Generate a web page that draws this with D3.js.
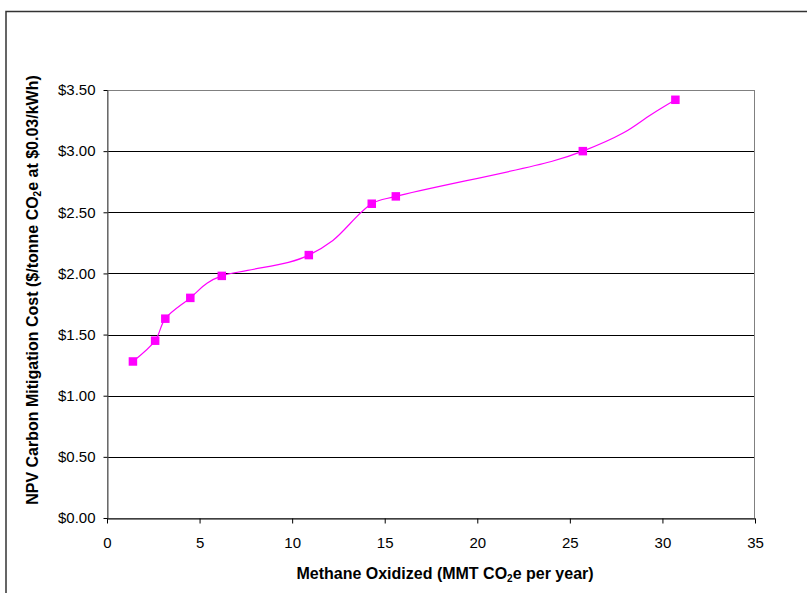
<!DOCTYPE html>
<html><head><meta charset="utf-8">
<script src="https://cdn.jsdelivr.net/npm/d3@7"></script>
<style>body{margin:0;background:#fff;} svg{display:block;font-family:"Liberation Sans",Arial,sans-serif;}</style>
</head><body>
<svg id="c" width="807" height="593"></svg>
<script>
// marker points
const markerX = [1.4, 2.6, 3.15, 4.5, 6.2, 10.9, 14.3, 15.6, 25.7, 30.7];
const markerY = [1.28, 1.45, 1.63, 1.80, 1.98, 2.15, 2.57, 2.63, 3.00, 3.42];
// smoothed line points (includes unmarked vertices)
const lineX = [1.4, 2.6, 3.15, 4.5, 5.4, 6.2, 7.6, 9.8, 10.9, 12.2, 14.3, 15.6, 24.0, 25.7, 27.9, 29.4, 30.7];
const lineY = [1.28, 1.45, 1.63, 1.80, 1.92, 1.98, 2.025, 2.09, 2.15, 2.27, 2.57, 2.63, 2.915, 3.00, 3.15, 3.30, 3.42];
const xTicks = [0, 5, 10, 15, 20, 25, 30, 35];
const yTicks = [0, 0.5, 1, 1.5, 2, 2.5, 3, 3.5];

const svg = d3.select("#c");
const L = 107, R = 755, T = 90, B = 518;
const x = d3.scaleLinear().domain([0, 35]).range([L, R]);
const y = d3.scaleLinear().domain([0, 3.5]).range([B, T]);

// outer frame
svg.append("path").attr("d", `M6,593 V11.5 H807`).attr("fill", "none").attr("stroke", "#333").attr("stroke-width", 1.5);

// gridlines
svg.append("g").selectAll("line").data(yTicks.filter(d => d > 0 && d < 3.5)).join("line")
  .attr("x1", L).attr("x2", R).attr("y1", d => Math.round(y(d)) + 0.5).attr("y2", d => Math.round(y(d)) + 0.5)
  .attr("stroke", "#000").attr("stroke-width", 1);

// plot border
svg.append("rect").attr("x", L + 0.5).attr("y", T + 0.5).attr("width", R - L - 1).attr("height", B - T)
  .attr("fill", "none").attr("stroke", "#808080").attr("stroke-width", 1);

// axes
const fmt = d => "$" + d.toFixed(2);
const yAxis = d3.axisLeft(y).tickValues(yTicks).tickFormat(fmt).tickSizeInner(4).tickSizeOuter(0).tickPadding(8);
const gy = svg.append("g").attr("transform", `translate(${L + 0.5},0)`).call(yAxis);
gy.select(".domain").attr("stroke", "#555");
gy.selectAll(".tick line").attr("stroke", "#000");
gy.selectAll("text").attr("font-size", 15).attr("fill", "#000").attr("font-family", "Liberation Sans, Arial, sans-serif");

const xAxis = d3.axisBottom(x).tickValues(xTicks).tickFormat(d3.format("d")).tickSizeInner(5).tickSizeOuter(0).tickPadding(14);
const gx = svg.append("g").attr("transform", `translate(0,${B + 0.5})`).call(xAxis);
gx.select(".domain").attr("stroke", "#000");
gx.selectAll(".tick line").attr("stroke", "#000");
gx.selectAll("text").attr("font-size", 15).attr("fill", "#000").attr("font-family", "Liberation Sans, Arial, sans-serif");

// line
const pts = lineX.map((v, i) => [v, lineY[i]]);
svg.append("path").datum(pts)
  .attr("d", d3.line().x(d => x(d[0])).y(d => y(d[1])).curve(d3.curveCatmullRom.alpha(0.5)))
  .attr("fill", "none").attr("stroke", "#FF00FF").attr("stroke-width", 1.2);

// markers
const ms = 8.5;
svg.append("g").selectAll("rect").data(markerX.map((v, i) => [v, markerY[i]])).join("rect")
  .attr("x", d => x(d[0]) - ms / 2).attr("y", d => y(d[1]) - ms / 2)
  .attr("width", ms).attr("height", ms).attr("fill", "#FF00FF");

// axis titles
const xt = svg.append("text").attr("x", 445).attr("y", 579).attr("text-anchor", "middle")
  .attr("font-size", 16).attr("font-weight", "bold");
xt.append("tspan").text("Methane Oxidized (MMT CO");
xt.append("tspan").text("2").attr("font-size", 10).attr("dy", 3);
xt.append("tspan").text("e per year)").attr("dy", -3);

const yt = svg.append("text").attr("transform", `translate(38,290) rotate(-90)`).attr("text-anchor", "middle")
  .attr("font-size", 16).attr("font-weight", "bold");
yt.append("tspan").text("NPV Carbon Mitigation Cost ($/tonne CO");
yt.append("tspan").text("2").attr("font-size", 10).attr("dy", 3);
yt.append("tspan").text("e at $0.03/kWh)").attr("dy", -3);
</script>
</body></html>
